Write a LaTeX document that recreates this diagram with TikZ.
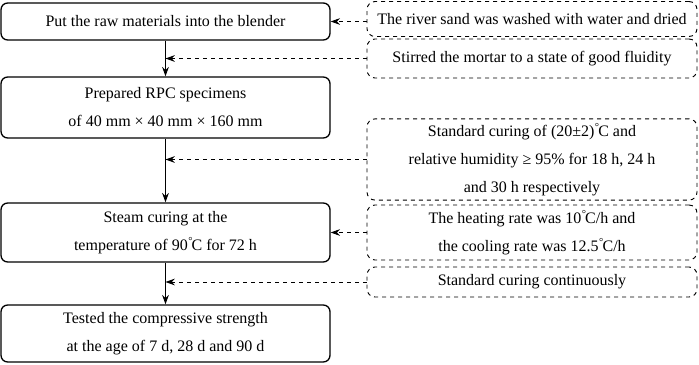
\documentclass[tikz,border=0pt]{standalone}
\usepackage{fontspec}
\setmainfont{Liberation Serif}
\usetikzlibrary{arrows.meta}

\newcommand{\degC}{\textsuperscript{\kern0.05em°}\kern-0.1emC}

\tikzset{
  stepbox/.style={draw, line width=1pt, rounded corners=5pt, align=center,
    minimum width=329\unitpx, font=\fontsize{12}{21}\selectfont},
  notebox/.style={draw, dashed, line width=0.7pt, rounded corners=6pt, align=center,
    minimum width=330\unitpx, font=\fontsize{12}{21}\selectfont},
  flow/.style={line width=1pt, -{Stealth[length=7pt,width=5pt]}},
  feed/.style={dashed, line width=0.7pt, -{Stealth[length=7pt,width=5pt]}}
}
\newlength{\unitpx}
\setlength{\unitpx}{0.75pt}

\begin{document}
\begin{tikzpicture}[x=0.75pt, y=0.75pt]
  \useasboundingbox (0,0) rectangle (699,364);

  % Main steps (left column)
  \node[stepbox, minimum height=37\unitpx] (blend) at (165.5, 342.5)
        {Put the raw materials into the blender};
  \node[stepbox, minimum height=61\unitpx] (spec) at (165.5, 256.5)
        {Prepared RPC specimens\\of 40 mm × 40 mm × 160 mm};
  \node[stepbox, minimum height=59\unitpx] (steam) at (165.5, 131.5)
        {Steam curing at the\\temperature of 90\degC{} for 72 h};
  \node[stepbox, minimum height=57\unitpx] (test) at (165.5, 30.5)
        {Tested the compressive strength\\at the age of 7 d, 28 d and 90 d};

  % Notes (right column)
  \node[notebox, minimum height=35\unitpx] (sand) at (532, 345)
        {The river sand was washed with water and dried};
  \node[notebox, minimum height=39\unitpx] (stir) at (532, 305.5)
        {Stirred the mortar to a state of good fluidity};
  \node[notebox, minimum height=79\unitpx] (stdcure) at (532, 204.5)
        {Standard curing of (20±2)\degC{} and\\relative humidity ≥ 95\% for 18 h, 24 h\\and 30 h respectively};
  \node[notebox, minimum height=55\unitpx] (rate) at (532, 131.5)
        {The heating rate was 10\degC/h and\\the cooling rate was 12.5\degC/h};
  \node[notebox, minimum height=30\unitpx] (cont) at (532, 82)
        {Standard curing continuously};

  % Main flow
  \draw[flow] (blend) -- (spec);
  \draw[flow] (spec) -- (steam);
  \draw[flow] (steam) -- (test);

  % Feeds from the notes
  \draw[feed] (sand.west |- blend.east) -- (blend.east);
  \draw[feed] (stir.west) -- (stir.west -| blend.south);
  \draw[feed] (stdcure.west) -- (stdcure.west -| spec.south);
  \draw[feed] (rate.west |- steam.east) -- (steam.east);
  \draw[feed] (cont.west) -- (cont.west -| steam.south);
\end{tikzpicture}
\end{document}
